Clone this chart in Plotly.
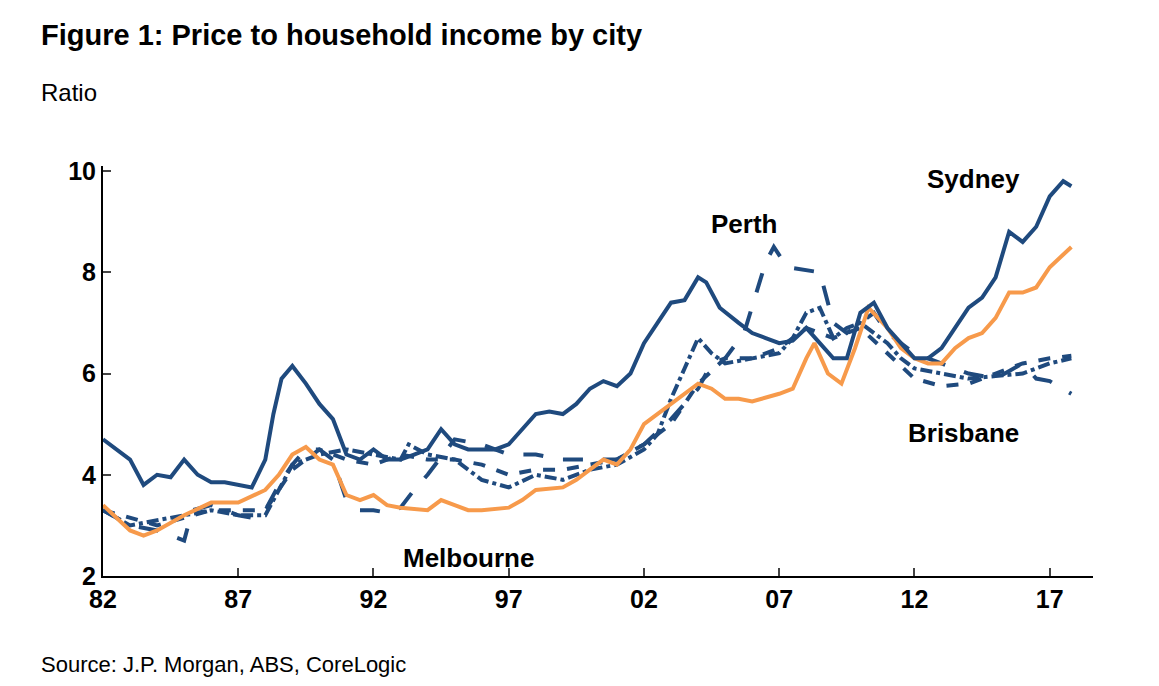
import plotly.graph_objects as go

syd_x = [82,82.5,83,83.5,84,84.5,85,85.5,86,86.5,87,87.5,88,88.3,88.6,89,89.5,90,90.5,91,91.5,92,92.5,93,93.5,94,94.5,95,95.5,96,96.5,97,97.5,98,98.5,99,99.5,100,100.5,101,101.5,102,102.5,103,103.5,104,104.3,104.8,105.5,106,106.5,107,107.5,108,108.5,109,109.5,110,110.5,111,111.5,112,112.5,113,113.5,114,114.5,115,115.5,116,116.5,117,117.5,117.8]
syd_y = [4.7,4.5,4.3,3.8,4.0,3.95,4.3,4.0,3.85,3.85,3.8,3.75,4.3,5.2,5.9,6.15,5.8,5.4,5.1,4.4,4.3,4.5,4.3,4.3,4.4,4.5,4.9,4.6,4.5,4.5,4.5,4.6,4.9,5.2,5.25,5.2,5.4,5.7,5.85,5.75,6.0,6.6,7.0,7.4,7.45,7.9,7.8,7.3,7.0,6.8,6.7,6.6,6.65,6.9,6.6,6.3,6.3,7.2,7.4,6.9,6.6,6.3,6.3,6.5,6.9,7.3,7.5,7.9,8.8,8.6,8.9,9.5,9.8,9.7]

mel_x = [82,83,83.5,84,85,86,87,88,88.5,89,89.5,90,90.5,91,91.5,92,92.5,93,94,94.5,95,95.5,96,97,97.5,98,99,99.5,100,100.5,101,101.5,102,102.5,103,104,104.5,105,105.5,106,107,107.5,108,108.3,108.8,109.3,109.8,110.3,111,111.5,112,112.5,113,113.5,114,114.5,115,115.5,116,116.5,117,117.8]
mel_y = [3.4,2.9,2.8,2.9,3.2,3.45,3.45,3.7,4.0,4.4,4.55,4.3,4.2,3.6,3.5,3.6,3.4,3.35,3.3,3.5,3.4,3.3,3.3,3.35,3.5,3.7,3.75,3.9,4.1,4.3,4.2,4.5,5.0,5.2,5.4,5.8,5.7,5.5,5.5,5.45,5.6,5.7,6.3,6.6,6.0,5.8,6.5,7.3,6.9,6.5,6.3,6.2,6.2,6.5,6.7,6.8,7.1,7.6,7.6,7.7,8.1,8.5]

per_x = [82,83,84,85,85.3,86,87,87.5,88,88.5,89,89.5,90,90.5,91,91.5,92,92.5,93,93.5,94,94.5,95,96,97,98,99,100,101,102,103,104,104.5,105,105.7,106.5,106.8,107.3,108,108.5,109,109.5,110,110.5,111,112,112.5,113,114,115,116,116.5,117,117.8]
per_y = [3.3,3.0,2.9,2.7,3.3,3.4,3.2,3.15,3.3,3.8,4.2,4.5,4.5,4.3,3.5,3.3,3.3,3.25,3.35,3.7,4.0,4.35,4.7,4.6,4.4,4.4,4.3,4.3,4.3,4.6,5.1,5.7,6.2,6.3,6.8,8.2,8.5,8.1,8.05,8.0,7.0,6.8,7.0,7.2,6.8,6.4,6.3,6.2,6.0,5.9,6.2,5.9,5.85,5.6]

bri_x = [82,83,85,86,87,88,89,90,91,92,93,93.3,94,95,96,97,98,99,100,101,102,102.5,103,103.5,104,104.5,105,106,107,107.5,108,108.5,109,109.5,110,111,111.5,112,113,114,115,116,117,117.8]
bri_y = [3.3,3.0,3.2,3.3,3.2,3.2,4.2,4.4,4.5,4.4,4.3,4.6,4.4,4.3,3.9,3.75,4.0,3.9,4.1,4.2,4.5,4.8,5.5,6.1,6.7,6.4,6.2,6.3,6.4,6.7,7.2,7.3,6.7,6.9,7.0,6.6,6.3,6.1,6.0,5.9,5.95,6.0,6.2,6.3]

adl_x = [82,84,86,88,89,90,91,92,93,94,95,96,97,98,99,100,101,102,103,104,105,106,107,108,109,110,111,112,113,114,115,116,117,117.8]
adl_y = [3.3,3.0,3.3,3.3,4.1,4.5,4.3,4.2,4.4,4.3,4.3,4.2,4.0,4.1,4.1,4.2,4.3,4.6,5.0,5.8,6.3,6.3,6.5,6.9,6.7,6.9,6.4,5.9,5.75,5.8,6.0,6.2,6.3,6.35]

tick_vals = [82,87,92,97,102,107,112,117]
tick_text = ["82","87","92","97","02","07","12","17"]

navy = "#1f4a7e"
orange = "#f79a4b"
fig = go.Figure()
def add(x, y, color, dash):
    fig.add_trace(go.Scatter(x=x, y=y, mode="lines", line=dict(color=color, width=4, dash=dash), showlegend=False))
add(adl_x, adl_y, navy, "dash")
add(bri_x, bri_y, navy, "dashdot")
add(per_x, per_y, navy, "longdash")
add(mel_x, mel_y, orange, "solid")
add(syd_x, syd_y, navy, "solid")

f = dict(family="Liberation Sans, Arial", color="black")
for t, x, y in [("Sydney", 114.2, 9.85), ("Perth", 105.7, 8.95), ("Brisbane", 113.8, 4.82), ("Melbourne", 95.5, 2.35)]:
    fig.add_annotation(x=x, y=y, text="<b>%s</b>" % t, showarrow=False, font=dict(size=26, **f), xanchor="center")

fig.add_annotation(xref="paper", yref="paper", x=-0.065, y=1.32, text="<b>Figure 1: Price to household income by city</b>",
                   showarrow=False, xanchor="left", yanchor="middle", font=dict(size=29, **f))
fig.add_annotation(xref="paper", yref="paper", x=-0.065, y=1.18, text="Ratio",
                   showarrow=False, xanchor="left", yanchor="middle", font=dict(size=24, **f))
fig.add_annotation(xref="paper", yref="paper", x=-0.065, y=-0.215, text="Source: J.P. Morgan, ABS, CoreLogic",
                   showarrow=False, xanchor="left", yanchor="middle", font=dict(size=22, **f))

fig.update_layout(width=1159, height=686, margin=dict(l=95, r=74, t=158, b=118),
                  plot_bgcolor="white", paper_bgcolor="white")
fig.update_xaxes(range=[82, 118.6], tickvals=tick_vals, ticktext=tick_text, showgrid=False,
                 showline=True, linecolor="black", linewidth=2, ticks="inside", ticklen=8, tickwidth=2,
                 tickfont=dict(size=25, family="Liberation Sans, Arial", color="black", weight="bold"), zeroline=False)
fig.update_yaxes(range=[2, 10.1], tickvals=[2,4,6,8,10], showgrid=False,
                 showline=True, linecolor="black", linewidth=2, ticks="inside", ticklen=8, tickwidth=2,
                 tickfont=dict(size=25, family="Liberation Sans, Arial", color="black", weight="bold"), zeroline=False)
fig.write_html("out.html")
